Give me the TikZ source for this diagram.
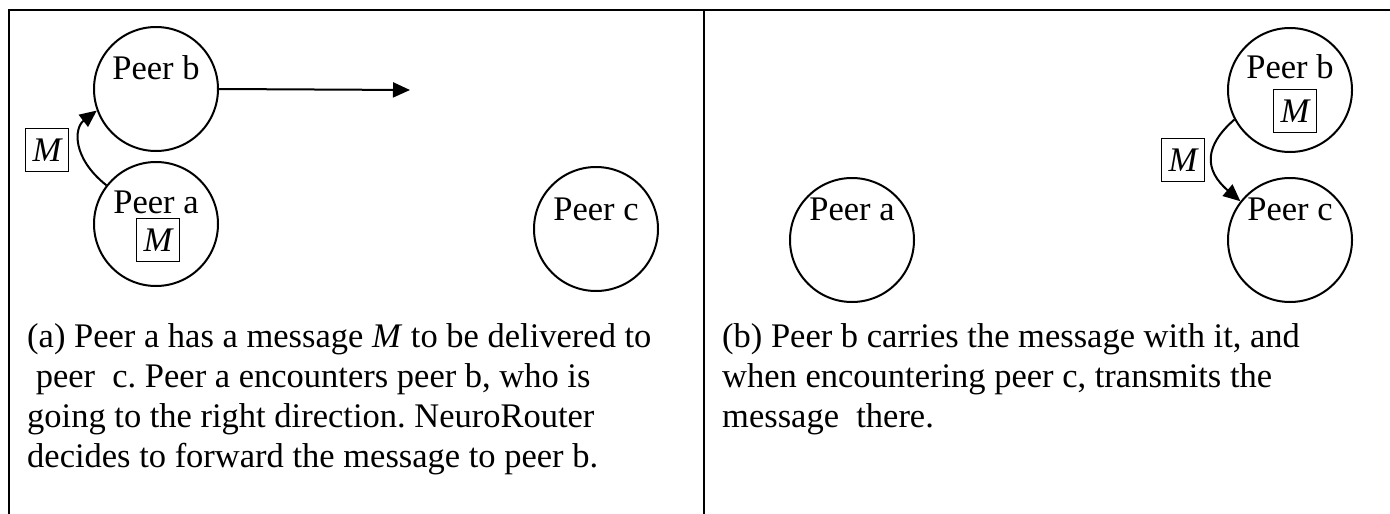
\documentclass[tikz,border=0pt]{standalone}
\usepackage{fontspec}
\setmainfont{Liberation Serif}
\usetikzlibrary{arrows.meta}
\frenchspacing
\tikzset{
  peer/.style={circle, draw, line width=2pt, minimum size=124pt, inner sep=0pt},
  lbl/.style={anchor=base, inner sep=0pt, font=\fontsize{34.5}{34.5}\selectfont},
  msg/.style={draw, line width=1.8pt, minimum size=43pt, inner sep=0pt, font=\fontsize{34.5}{34.5}\selectfont\itshape},
  captxt/.style={anchor=base west, inner sep=0pt, font=\fontsize{34.5}{40}\selectfont},
  flow/.style={line width=2pt, -{Triangle[length=17pt,width=15pt]}},
  panelframe/.style={line width=2.5pt}
}
\begin{document}
\begin{tikzpicture}[x=1pt, y=-1pt]
\useasboundingbox (0,0) rectangle (1390,514);
% panel frame
\draw[panelframe] (9,514) -- (9,10) -- (1390,10);
\draw[panelframe] (704,10) -- (704,514);

% ---- panel (a) ----
\node[peer] (pb) at (156,89) {};
\node[lbl] (pbt) at (156,79) {Peer b};
\node[peer] (pa) at (156,224) {};
\node[lbl] (pat) at (156,213) {Peer a};
\node[msg] (ma) at (158,240) {M};
\node[peer] (pc) at (596,229) {};
\node[lbl] (pct) at (596,220) {Peer c};
\coordinate (dir) at (410,90);
\draw[flow] (pb.east) -- (dir);
\node[msg] (m1) at (47,150) {M};
\draw[flow] (pa.142) .. controls (72,158) and (74,128) .. (pb.200);

\node[captxt] (ca1) at (27,347) {(a) Peer a has a message \textit{M} to be delivered to};
\node[captxt] (ca2) at (27,387) {\ peer\ \ c. Peer a encounters peer b, who is};
\node[captxt] (ca3) at (27,427) {going to the right direction. NeuroRouter};
\node[captxt] (ca4) at (27,467) {decides to forward the message to peer b.};

% ---- panel (b) ----
\node[peer] (qa) at (852,240) {};
\node[lbl] (qat) at (852,220) {Peer a};
\node[peer] (qb) at (1290,90) {};
\node[lbl] (qbt) at (1290,78) {Peer b};
\node[msg] (mb) at (1295,111) {M};
\node[peer] (qc) at (1290,240) {};
\node[lbl] (qct) at (1290,220) {Peer c};
\node[msg] (m2) at (1183,160) {M};
\draw[flow] (qb.208) .. controls (1204,146) and (1204,170) .. (qc.142);

\node[captxt] (cb1) at (722,347) {(b) Peer b carries the message with it, and};
\node[captxt] (cb2) at (722,387) {when encountering peer c, transmits the};
\node[captxt] (cb3) at (722,427) {message\ \ there.};
\end{tikzpicture}
\end{document}
